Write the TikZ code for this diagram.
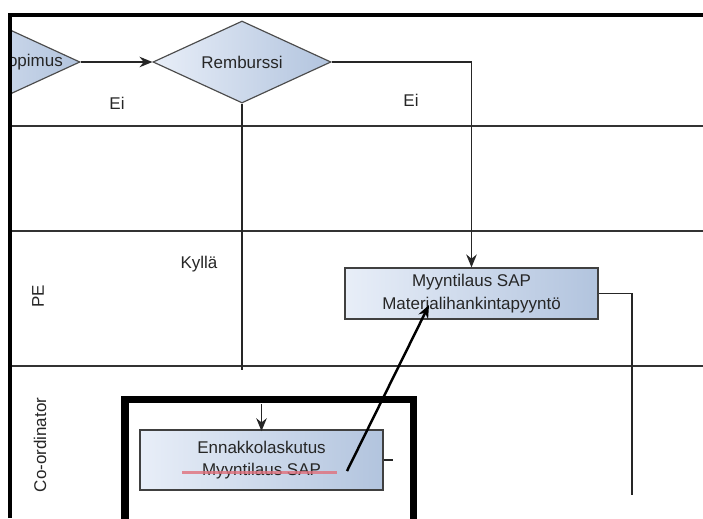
\documentclass[tikz,border=0pt]{standalone}
\usepackage{fontspec}
\setmainfont{Liberation Sans}
\usepackage{tikz}
\usetikzlibrary{arrows.meta,shapes.geometric}

\definecolor{boxleft}{HTML}{E8EEF8}
\definecolor{boxright}{HTML}{B2C4DE}
\definecolor{strikered}{HTML}{E0707C}
\newcommand\bpmnfont{\fontsize{14.5}{19}\selectfont}

\tikzset{
  lane/.style={draw=black!80, line width=1.3pt},
  border/.style={draw=black, line width=3.8pt},
  flow/.style={draw=black!85, line width=1.2pt},
  pointer/.style={draw=black, line width=2.1pt, -{Stealth[length=11pt,width=9pt]}},
  taskbox/.style={draw=black!75, line width=1.1pt, left color=boxleft, right color=boxright,
    align=center, font=\bpmnfont, text=black!85, inner sep=0pt},
  gate/.style={diamond, draw=black!70, line width=1pt, left color=boxleft, right color=boxright,
    aspect=2.17, minimum width=5.34cm, minimum height=2.46cm, inner sep=0pt,
    font=\bpmnfont, text=black!85},
  note/.style={font=\bpmnfont, text=black!85, inner sep=0pt},
  hilite/.style={draw=black, line width=6pt},
  strike/.style={draw=strikered, opacity=0.8, line width=1.8pt},
  >={Stealth[length=11pt,width=9pt]}
}

\begin{document}
\begin{tikzpicture}[x=0.03cm, y=-0.03cm]
  \useasboundingbox (0,0) rectangle (703,518);
  \clip (0,0) rectangle (703,518);

  % swimlanes
  \draw[lane] (10,126) -- (703,126);
  \draw[lane] (10,231) -- (703,231);
  \draw[lane] (10,366) -- (703,366);
  \node[note, rotate=90] (pelane) at (38,296) {PE};
  \node[note, rotate=90] (colane) at (40,445) {Co-ordinator};

  % gateways
  \begin{scope}
    \clip (10,0) rectangle (703,518);
    \node[gate] (prev) at (-9,62) {};
    \node[note, anchor=east] (prevtext) at (63,62) {opimus};
  \end{scope}
  \node[gate] (remb) at (242,62) {Remburssi};

  % tasks
  \node[taskbox, minimum width=7.59cm, minimum height=1.53cm] (pe) at (471.5,293.5)
    {Myyntilaus SAP\\Materialihankintapyyntö};
  \node[taskbox, minimum width=7.29cm, minimum height=1.8cm] (enn) at (261.5,460)
    {Ennakkolaskutus\\Myyntilaus SAP};
  \draw[strike] (182,472.5) -- (337,472.5);
  \draw[hilite] (125,399.5) rectangle (413.5,540);

  % labels
  \node[note] (ei1) at (117,103) {Ei};
  \node[note] (ei2) at (411,100) {Ei};
  \node[note] (kylla) at (199,264) {Kyllä};

  % free ends
  \coordinate (kyllaend) at (242,370);
  \coordinate (ennin) at (261.5,404);
  \coordinate (stub) at (393,460);
  \coordinate (peout) at (632,495);
  \coordinate (ptrstart) at (347,471);
  \coordinate (ptrend) at (429,305);

  % flows
  \draw[flow,->] (prev.east) -- (remb.west);
  \draw[flow,->] (ennin) -- ([yshift=-1.5pt]enn.north);
  \draw[flow,->] (remb.east) -| (pe.north);
  \draw[flow] (remb.south) -- (kyllaend);
  \draw[flow] (enn.east) -- (stub);
  \draw[flow] (pe.east) -| (peout);
  \draw[pointer] (ptrstart) -- (ptrend);

  % frame
  \draw[border] (10,518) -- (10,15) -- (703,15);
\end{tikzpicture}
\end{document}
